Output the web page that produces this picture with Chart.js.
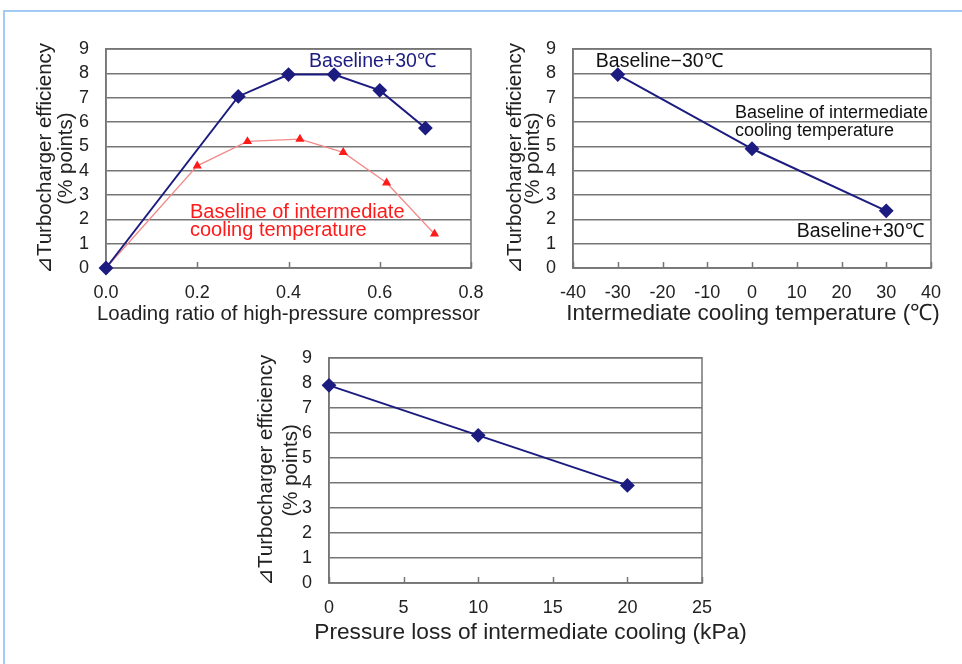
<!DOCTYPE html>
<html>
<head>
<meta charset="utf-8">
<script src="https://cdn.jsdelivr.net/npm/chart.js@4.4.1/dist/chart.umd.min.js"></script>
<style>
  body { margin: 0; background: #fff; }
  #page { position: relative; width: 962px; height: 664px; overflow: hidden; background: #fff; }
  #frame { position: absolute; left: 3px; top: 10px; width: 1000px; height: 700px;
           border-top: 2px solid #a3cbf5; border-left: 2px solid #a3cbf5; }
  canvas { position: absolute; }
</style>
</head>
<body>
<div id="page">
  <div id="frame"></div>
  <canvas id="ratio-chart" width="490" height="340" style="left:0;top:0"></canvas>
  <canvas id="temp-chart" width="482" height="340" style="left:480px;top:0"></canvas>
  <canvas id="loss-chart" width="560" height="334" style="left:220px;top:330px"></canvas>
</div>
<script>
"use strict";

// --- data ---
const loadRatioPlus30 = [0, 0.29, 0.40, 0.50, 0.60, 0.70];
const effPlus30 = [0, 7.05, 7.95, 7.95, 7.3, 5.75];
const loadRatioBase = [0, 0.2, 0.31, 0.425, 0.52, 0.615, 0.72];
const effBase = [0, 4.2, 5.2, 5.3, 4.75, 3.5, 1.4];
const coolTemp = [-30, 0, 30];
const effTemp = [7.95, 4.9, 2.35];
const pressLoss = [0, 10, 20];
const effLoss = [7.9, 5.9, 3.9];
const effTicks = [0, 1, 2, 3, 4, 5, 6, 7, 8, 9];

const yTitle = ["\u22BFTurbocharger efficiency", "(% points)"];
const FONT = "'Liberation Sans', Arial, sans-serif";
const NAVY = "#1c1c80";
const RED = "#ff1a1a";
const GRID = "#767676";

const toXY = (xs, ys) => xs.map((x, i) => ({ x: x, y: ys[i] }));

// box round the plot area and small inside tick marks on the x axis
const plotFrame = {
  id: "plotFrame",
  beforeDatasetsDraw(chart) {
    const { ctx, chartArea: a, scales } = chart;
    ctx.save();
    ctx.strokeStyle = GRID;
    ctx.lineWidth = 1.5;
    ctx.strokeRect(a.left, a.top, a.right - a.left, a.bottom - a.top);
    ctx.beginPath();
    scales.x.ticks.forEach((t) => {
      const px = Math.round(scales.x.getPixelForValue(t.value)) + 0.5;
      ctx.moveTo(px, a.bottom);
      ctx.lineTo(px, a.bottom - 6);
    });
    ctx.stroke();
    ctx.restore();
  },
};

// text labels placed in data units, plus the x caption (wider than the plot, so not a scale title)
const notesPlugin = (notes, cap) => ({
  id: "notes",
  afterDraw(chart) {
    const { ctx, scales, chartArea: a } = chart;
    ctx.save();
    ctx.textBaseline = "middle";
    ctx.textAlign = "left";
    notes.forEach((n) => {
      ctx.font = (n.size || 19.5) + "px " + FONT;
      ctx.fillStyle = n.color;
      ctx.fillText(n.text, scales.x.getPixelForValue(n.x), scales.y.getPixelForValue(n.y));
    });
    ctx.font = cap.size + "px " + FONT;
    ctx.fillStyle = "#222";
    ctx.textAlign = "center";
    ctx.fillText(cap.text, (a.left + a.right) / 2 + cap.dx, a.bottom + cap.dy);
    ctx.restore();
  },
});

function makeChart(id, opts) {
  return new Chart(document.getElementById(id), {
    type: "line",
    data: { datasets: opts.datasets },
    options: {
      responsive: false,
      animation: false,
      layout: { padding: opts.padding },
      plugins: { legend: { display: false }, tooltip: { enabled: false } },
      scales: {
        x: {
          type: "linear",
          min: opts.xMin,
          max: opts.xMax,
          afterFit: (s) => { s.height = opts.xHeight; },
          afterBuildTicks: (s) => { s.ticks = opts.xTicks.map((v) => ({ value: v })); },
          grid: { display: false },
          border: { display: true, color: GRID, width: 1.5 },
          ticks: {
            padding: 6,
            autoSkip: false,
            maxRotation: 0,
            color: "#222",
            font: { family: FONT, size: 18 },
            callback: opts.xFormat,
          },
        },
        y: {
          min: 0,
          max: 9,
          afterFit: (s) => { s.width = opts.yWidth; },
          afterBuildTicks: (s) => { s.ticks = effTicks.map((v) => ({ value: v })); },
          grid: { color: GRID, lineWidth: 1.5, drawTicks: false },
          border: { display: true, color: GRID, width: 1.5 },
          ticks: { padding: 17, autoSkip: false, color: "#222", font: { family: FONT, size: 18 } },
          title: {
            display: true,
            text: yTitle,
            color: "#222",
            padding: 0,
            font: { family: FONT, size: 20.5, lineHeight: opts.yLine + "px" },
          },
        },
      },
    },
    plugins: [plotFrame, notesPlugin(opts.notes, opts.xCaption)],
  });
}

const navySet = (data) => ({
  data: data,
  borderColor: NAVY,
  borderWidth: 2,
  pointStyle: "rectRot",
  pointRadius: 6,
  pointBackgroundColor: NAVY,
  pointBorderColor: NAVY,
  clip: false,
});

makeChart("ratio-chart", {
  padding: { left: 35, top: 49, right: 19, bottom: 13 },
  yWidth: 71,
  xHeight: 59,
  yLine: 21,
  xMin: 0,
  xMax: 0.8,
  xTicks: [0, 0.2, 0.4, 0.6, 0.8],
  xFormat: (v) => Number(v).toFixed(1),
  xCaption: { text: "Loading ratio of high-pressure compressor", size: 20.4, dx: 0, dy: 46 },
  datasets: [
    navySet(toXY(loadRatioPlus30, effPlus30)),
    {
      data: toXY(loadRatioBase, effBase),
      borderColor: "#f28a8a",
      borderWidth: 1.3,
      pointStyle: "triangle",
      pointRadius: 4,
      pointBackgroundColor: RED,
      pointBorderColor: RED,
      clip: false,
    },
  ],
  notes: [
    { text: "Baseline+30\u2103", x: 0.445, y: 8.47, color: NAVY },
    { text: "Baseline of intermediate", x: 0.184, y: 2.3, color: RED, size: 20 },
    { text: "cooling temperature", x: 0.184, y: 1.56, color: RED, size: 20 },
  ],
});

makeChart("temp-chart", {
  padding: { left: 26, top: 49, right: 31, bottom: 12 },
  yWidth: 67,
  xHeight: 60,
  yLine: 18,
  xMin: -40,
  xMax: 40,
  xTicks: [-40, -30, -20, -10, 0, 10, 20, 30, 40],
  xFormat: (v) => String(v),
  xCaption: { text: "Intermediate cooling temperature (\u2103)", size: 22.5, dx: 1, dy: 46 },
  datasets: [navySet(toXY(coolTemp, effTemp))],
  notes: [
    { text: "Baseline\u221230\u2103", x: -34.9, y: 8.47, color: "#111" },
    { text: "Baseline of intermediate", x: -3.8, y: 6.37, color: "#111", size: 18 },
    { text: "cooling temperature", x: -3.8, y: 5.63, color: "#111", size: 18 },
    { text: "Baseline+30\u2103", x: 10.0, y: 1.48, color: "#111" },
  ],
});

makeChart("loss-chart", {
  padding: { left: 34, top: 26, right: 78, bottom: 17 },
  yWidth: 75,
  xHeight: 64,
  yLine: 25,
  xMin: 0,
  xMax: 25,
  xTicks: [0, 5, 10, 15, 20, 25],
  xFormat: (v) => String(v),
  xCaption: { text: "Pressure loss of intermediate cooling (kPa)", size: 22.7, dx: 15, dy: 50 },
  datasets: [navySet(toXY(pressLoss, effLoss))],
  notes: [],
});
</script>
</body>
</html>
